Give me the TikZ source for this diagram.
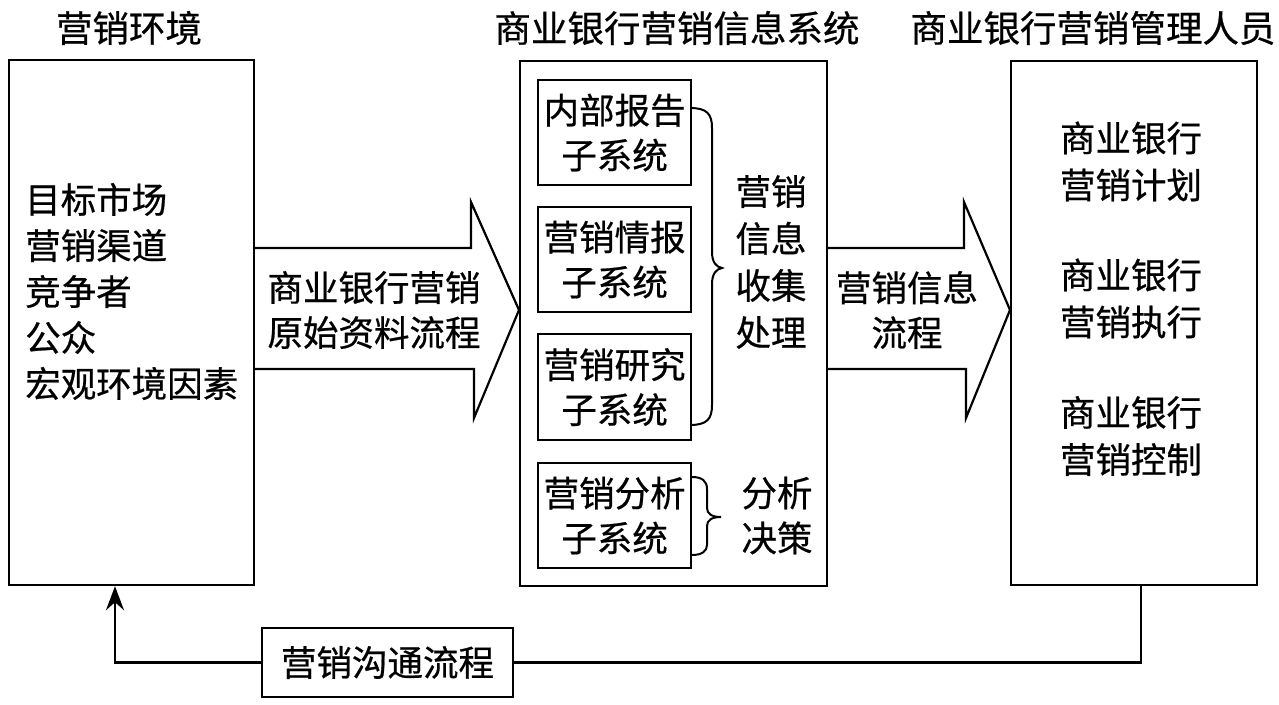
\documentclass[tikz,border=0pt]{standalone}
\usepackage{fontspec}
\setmainfont{Noto Sans CJK SC}[FakeBold=0.6]
\usetikzlibrary{arrows.meta,calc}
\begin{document}
\begin{tikzpicture}[x=1pt,y=-1pt,
  box/.style={draw,line width=2.2pt,inner sep=0pt,anchor=north west},
  txt/.style={font=\fontsize{35.5}{45}\selectfont,inner sep=0pt,align=center},
  blk/.style={draw,line width=2.2pt,fill=white,line join=miter},
  brc/.style={draw,line width=2pt},
  conn/.style={draw,line width=2.2pt}
]
\useasboundingbox (0,0) rectangle (1279,704);
% titles
\node[txt,font=\fontsize{36.5}{45}\selectfont] (t1) at (129,28) {营销环境};
\node[txt,font=\fontsize{36.5}{45}\selectfont] (t2) at (677,28) {商业银行营销信息系统};
\node[txt,font=\fontsize{36.5}{45}\selectfont] (t3) at (1093,28) {商业银行营销管理人员};
% main boxes
\node[box,minimum width=245pt,minimum height=525pt] (L) at (8,59) {};
\node[box,minimum width=307pt,minimum height=525pt] (M) at (519,60) {};
\node[box,minimum width=246pt,minimum height=524pt] (R) at (1010,60) {};
% left text
\node[txt,align=left,anchor=west,font=\fontsize{35.5}{46}\selectfont] (lt) at (25,291.5) {目标市场\\营销渠道\\竞争者\\公众\\宏观环境因素};
% block arrows
\path[blk] (L.east |- 0,248) -- (471,248) -- (471,202) -- (M.west |- 0,310) -- (474,418) -- (474,369) -- (L.east |- 0,369);
\node[txt] (a1) at (374,310) {商业银行营销\\原始资料流程};
\path[blk] (M.east |- 0,248) -- (964,248) -- (964,202) -- (R.west |- 0,310) -- (966,418) -- (966,369) -- (M.east |- 0,369);
\node[txt] (a2) at (907,310) {营销信息\\流程};
% sub boxes
\node[box,minimum width=153pt,minimum height=105pt] (s1) at (537,79) {};
\node[txt] (s1t) at (s1.center) {内部报告\\子系统};
\node[box,minimum width=153pt,minimum height=105pt] (s2) at (537,206) {};
\node[txt] (s2t) at (s2.center) {营销情报\\子系统};
\node[box,minimum width=153pt,minimum height=106pt] (s3) at (537,333) {};
\node[txt] (s3t) at (s3.center) {营销研究\\子系统};
\node[box,minimum width=153pt,minimum height=105pt] (s4) at (537,462) {};
\node[txt] (s4t) at (s4.center) {营销分析\\子系统};
% braces
\path[brc] (690,108) .. controls (707,108) and (712,114) .. (712,128) -- (712,252)
  .. controls (712,262) and (716,267) .. (722,268)
  .. controls (716,269) and (712,274) .. (712,284) -- (712,405)
  .. controls (712,419) and (707,425) .. (690,425);
\path[brc] (692,477) .. controls (702,477) and (707,481) .. (707,489) -- (707,508)
  .. controls (707,514) and (712,517) .. (721,517)
  .. controls (712,517) and (707,520) .. (707,526) -- (707,545)
  .. controls (707,551) and (702,555) .. (692,555);
\node[txt,font=\fontsize{35.5}{47}\selectfont] (mt) at (771,262) {营销\\信息\\收集\\处理};
\node[txt] (dt) at (777,515.5) {分析\\决策};
% right text
\node[txt,font=\fontsize{35.5}{47}\selectfont] (r1) at (1131,161.5) {商业银行\\营销计划};
\node[txt,font=\fontsize{35.5}{47}\selectfont] (r2) at (1131,298.5) {商业银行\\营销执行};
\node[txt,font=\fontsize{35.5}{47}\selectfont] (r3) at (1131,436) {商业银行\\营销控制};
% feedback
\node[box,minimum width=251pt,minimum height=69pt,anchor=center,font=\fontsize{35.5}{45}\selectfont] (fb) at (387.5,662.5) {营销沟通流程};
\coordinate (rx) at (1141,0);
\coordinate (lx) at (115,0);
\draw[conn] (R.south -| rx) |- (fb.east);
\draw[conn,-{Stealth[length=24pt,width=18pt,inset=8pt]}] (fb.west) -| (L.south -| lx);
\end{tikzpicture}
\end{document}
